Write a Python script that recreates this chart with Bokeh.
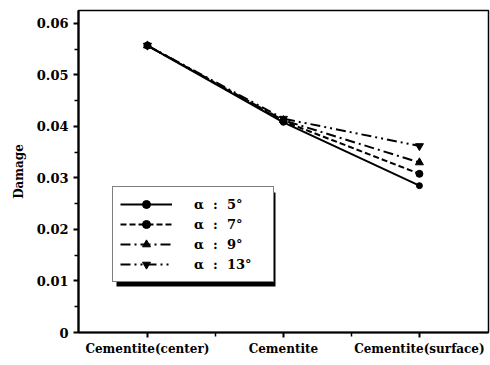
from bokeh.plotting import figure
from bokeh.models import (Range1d, FixedTicker, Legend, LegendItem, BoxAnnotation)
from bokeh.embed import file_html
from bokeh.resources import INLINE

# Damage values at three cementite positions for four inclination angles
positions = ["Cementite(center)", "Cementite", "Cementite(surface)"]
angle_labels = ["5°", "7°", "9°", "13°"]
damage_5 = [0.0557, 0.0408, 0.0285]
damage_7 = [0.0557, 0.0410, 0.0308]
damage_9 = [0.0557, 0.0412, 0.0330]
damage_13 = [0.0557, 0.0415, 0.0362]
y_ticks = [0, 0.01, 0.02, 0.03, 0.04, 0.05, 0.06]

FONT = "DejaVu Serif"
xs = list(range(len(positions)))
X0, X1 = -0.507, 2.508
Y0, Y1 = 0, 0.0625

p = figure(width=490, height=365, output_backend="svg", toolbar_location=None,
           x_range=Range1d(X0, X1), y_range=Range1d(Y0, Y1),
           min_border_left=78, min_border_right=2, min_border_top=10,
           min_border_bottom=33)
p.xgrid.visible = False
p.ygrid.visible = False
p.outline_line_color = "black"
p.outline_line_width = 1.5
p.background_fill_color = "white"
p.border_fill_color = "white"

# axes
p.xaxis.ticker = FixedTicker(ticks=xs, minor_ticks=[0.5, 1.5])
p.xaxis.major_label_overrides = {i: s for i, s in enumerate(positions)}
p.yaxis.ticker = FixedTicker(ticks=y_ticks,
                             minor_ticks=[t + 0.005 for t in y_ticks[:-1]])
p.yaxis.major_label_overrides = {t: ("0" if t == 0 else f"{t:.2f}") for t in y_ticks}
for ax in (p.xaxis[0], p.yaxis[0]):
    ax.axis_line_width = 2.2
    ax.major_tick_line_width = 2
    ax.minor_tick_line_width = 1.5
    ax.major_tick_out = 5
    ax.major_tick_in = 0
    ax.minor_tick_out = 4
    ax.minor_tick_in = 0
    ax.major_label_text_font = FONT
    ax.major_label_text_font_style = "bold"
    ax.major_label_text_color = "black"
p.xaxis.major_label_text_font_size = "12px"
p.yaxis.major_label_text_font_size = "13px"
p.xaxis.major_label_standoff = 4
p.yaxis.major_label_standoff = 5
p.yaxis.axis_label = "Damage"
p.yaxis.axis_label_text_font = FONT
p.yaxis.axis_label_text_font_style = "bold"
p.yaxis.axis_label_text_font_size = "12px"
p.yaxis.axis_label_text_color = "black"
p.yaxis.axis_label_standoff = 8

series = [
    (damage_5, "solid", "circle", 6),
    (damage_7, "6 3", "circle", 7),
    (damage_9, "10 4 2 4", "triangle", 8),
    (damage_13, "10 4 2 4 2 4", "inverted_triangle", 8),
]

items = []
for (vals, dash, marker, size), lab in zip(series, angle_labels):
    r_line = p.line(xs, vals, line_color="black", line_width=2, line_dash=dash)
    r_mark = p.scatter(xs, vals, marker=marker, size=size,
                       fill_color="black", line_color="black")
    items.append(LegendItem(label=f"α  :  {lab}", renderers=[r_line, r_mark]))

# drop shadow behind the legend box (pixel -> data conversion)
def px_x(px):
    return X0 + (px - 78) / 410 * (X1 - X0)

def px_y(py):
    return (332 - py) / 322 * (Y1 - Y0)

shadow = BoxAnnotation(left=px_x(116), right=px_x(275), top=px_y(192),
                       bottom=px_y(286), fill_color="black", fill_alpha=1,
                       line_color=None)
p.add_layout(shadow)

legend = Legend(items=items, location=(34, 50), margin=0, padding=7,
                spacing=0, glyph_width=52, glyph_height=20, label_height=20,
                label_width=72, label_standoff=22, label_text_font=FONT,
                label_text_font_style="bold", label_text_font_size="13px",
                label_text_color="black",
                border_line_color="black", border_line_width=1.5,
                background_fill_color="white", background_fill_alpha=1)
p.add_layout(legend)

open("out.html", "w").write(file_html(p, INLINE))
